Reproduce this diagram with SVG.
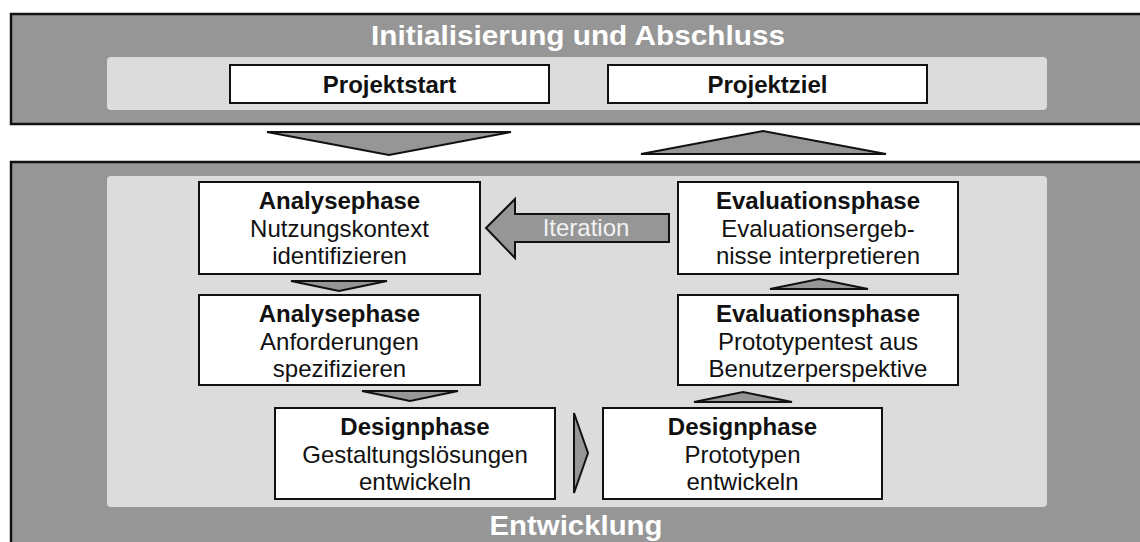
<svg xmlns="http://www.w3.org/2000/svg" width="1140" height="542" viewBox="0 0 1140 542">
  <style>
    .panel { fill: #969696; stroke: #111; stroke-width: 2.5; }
    .inner { fill: #dcdcdc; }
    .box { fill: #fff; stroke: #111; stroke-width: 2; }
    .arrow { fill: #969696; stroke: #111; stroke-width: 2; stroke-linejoin: miter; }
    .head { font-family: "Liberation Sans", Arial, sans-serif; font-weight: bold; font-size: 28px; fill: #fff; text-anchor: middle; }
    .t { font-family: "Liberation Sans", Arial, sans-serif; font-size: 24px; fill: #111; text-anchor: middle; }
    .b { font-weight: bold; }
    .it { font-family: "Liberation Sans", Arial, sans-serif; font-size: 24px; fill: #f2f2f2; text-anchor: middle; }
  </style>

  <!-- Initialisation and closing band -->
  <g id="band-top">
    <rect class="panel" x="11" y="14" width="1200" height="110"/>
    <rect class="inner" x="107" y="57" width="940" height="53" rx="4"/>
    <text class="head" x="578" y="45" textLength="414" lengthAdjust="spacingAndGlyphs">Initialisierung und Abschluss</text>
  </g>

  <!-- Development band -->
  <g id="band-bottom">
    <rect class="panel" x="11" y="162" width="1200" height="420"/>
    <rect class="inner" x="107" y="176" width="940" height="331" rx="4"/>
    <text class="head" x="576" y="535" textLength="173" lengthAdjust="spacingAndGlyphs">Entwicklung</text>
  </g>

  <g id="projektstart">
    <rect class="box" x="230" y="65" width="319" height="38"/>
    <text class="t b" x="389.5" y="93">Projektstart</text>
  </g>
  <g id="projektziel">
    <rect class="box" x="608" y="65" width="319" height="38"/>
    <text class="t b" x="767.5" y="93">Projektziel</text>
  </g>

  <g id="analyse-1">
    <rect class="box" x="199" y="182" width="281" height="92"/>
    <text class="t b" x="339.5" y="209">Analysephase</text>
    <text class="t" x="339.5" y="236.5">Nutzungskontext</text>
    <text class="t" x="339.5" y="264">identifizieren</text>
  </g>
  <g id="analyse-2">
    <rect class="box" x="199" y="295" width="281" height="90"/>
    <text class="t b" x="339.5" y="322">Analysephase</text>
    <text class="t" x="339.5" y="349.5">Anforderungen</text>
    <text class="t" x="339.5" y="377">spezifizieren</text>
  </g>
  <g id="design-1">
    <rect class="box" x="275" y="408" width="280" height="91"/>
    <text class="t b" x="415" y="435">Designphase</text>
    <text class="t" x="415" y="462.5">Gestaltungslösungen</text>
    <text class="t" x="415" y="490">entwickeln</text>
  </g>
  <g id="design-2">
    <rect class="box" x="603" y="408" width="279" height="91"/>
    <text class="t b" x="742.5" y="435">Designphase</text>
    <text class="t" x="742.5" y="462.5">Prototypen</text>
    <text class="t" x="742.5" y="490">entwickeln</text>
  </g>
  <g id="evaluation-2">
    <rect class="box" x="678" y="295" width="280" height="90"/>
    <text class="t b" x="818" y="322">Evaluationsphase</text>
    <text class="t" x="818" y="349.5">Prototypentest aus</text>
    <text class="t" x="818" y="377">Benutzerperspektive</text>
  </g>
  <g id="evaluation-1">
    <rect class="box" x="678" y="182" width="280" height="92"/>
    <text class="t b" x="818" y="209">Evaluationsphase</text>
    <text class="t" x="818" y="236.5">Evaluationsergeb-</text>
    <text class="t" x="818" y="264">nisse interpretieren</text>
  </g>

  <!-- Flow arrows -->
  <g id="connectors">
    <polygon class="arrow" points="267,132 511,132 389,155"/>
    <polygon class="arrow" points="641,154 886,154 763,131"/>
    <polygon class="arrow" points="291,281 387,281 339,291"/>
    <polygon class="arrow" points="362,391 458,391 410,401"/>
    <polygon class="arrow" points="574,413 588,453 574,493"/>
    <polygon class="arrow" points="694,402 792,402 743,392"/>
    <polygon class="arrow" points="770,289 868,289 819,279"/>
    <polygon class="arrow" points="486,228 515,199 515,214 669,214 669,242 515,242 515,258"/>
    <text class="it" x="586" y="236">Iteration</text>
  </g>
</svg>
